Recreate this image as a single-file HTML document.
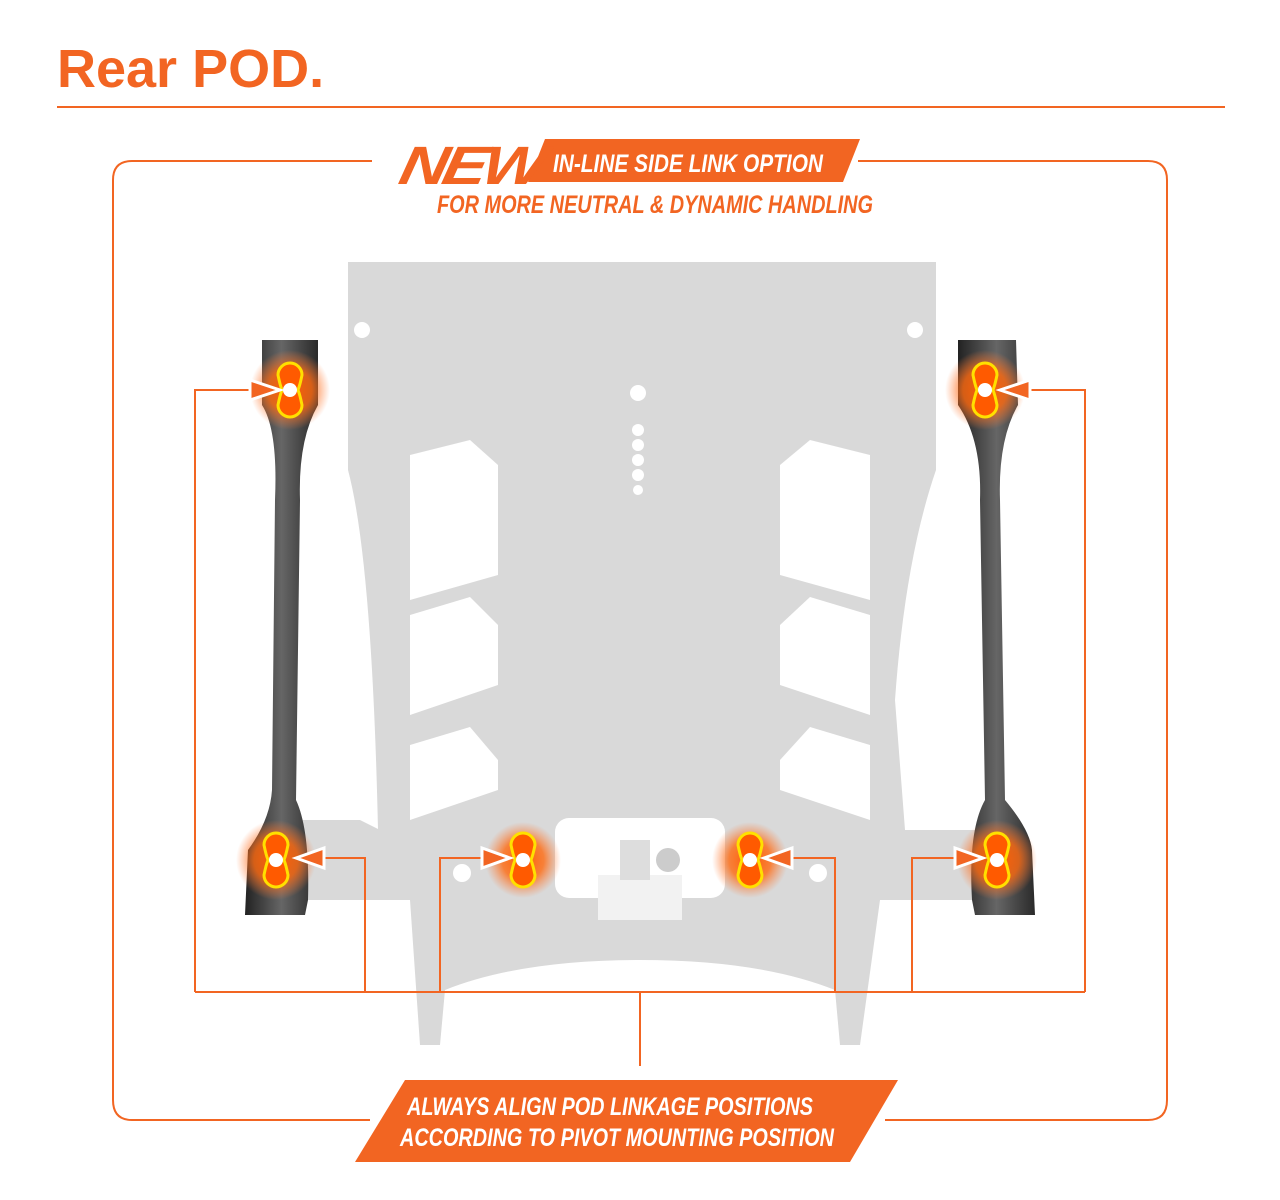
<!DOCTYPE html><html><head><style>body{margin:0;background:#fff}svg{display:block}</style></head><body>
<svg width="1280" height="1200" viewBox="0 0 1280 1200" xmlns="http://www.w3.org/2000/svg" font-family="Liberation Sans, sans-serif">
<defs>
<radialGradient id="g"><stop offset="0" stop-color="#ff5a00" stop-opacity="1"/><stop offset="0.55" stop-color="#ff6a10" stop-opacity="0.8"/><stop offset="1" stop-color="#ff8040" stop-opacity="0"/></radialGradient>
<linearGradient id="arm" x1="0" x2="1"><stop offset="0" stop-color="#222"/><stop offset="0.5" stop-color="#666"/><stop offset="1" stop-color="#2a2a2a"/></linearGradient>
</defs>
<text x="57" y="87" font-size="54" font-weight="bold" fill="#f26522">Rear POD.</text>
<rect x="57" y="106" width="1168" height="2" fill="#f26522"/>
<path d="M372 161 H132 Q113 161 113 180 V1100 Q113 1120 132 1120 H370 M885 1120 H1148 Q1167 1120 1167 1100 V180 Q1167 161 1148 161 H858" fill="none" stroke="#f26522" stroke-width="2"/>
<!-- plate -->
<path d="M300 820 L360 820 L380 830 L300 830 Z" fill="#d8d8d8"/>
<path d="M348 262 H936 V470 Q905 560 895 700 L905 830 L985 830 L985 900 L880 900 L860 1045 H840 L835 990 Q760 960 640 960 Q520 960 445 990 L440 1045 H420 L410 900 L300 900 L300 830 L378 830 Q372 560 348 470 Z" fill="#d9d9d9"/>
<rect x="555" y="818" width="170" height="80" rx="14" fill="#fff"/>
<rect x="598" y="875" width="84" height="45" fill="#f2f2f2"/>
<rect x="620" y="840" width="30" height="40" fill="#ddd"/><circle cx="668" cy="860" r="12" fill="#ccc"/>
<g fill="#fff">
<path d="M410 455 L470 440 L498 465 V575 L410 600 Z"/><path d="M410 615 L470 597 L498 625 V685 L410 715 Z"/><path d="M410 745 L470 727 L498 760 V790 L410 820 Z"/>
<path d="M870 455 L810 440 L780 465 V575 L870 600 Z"/><path d="M870 615 L810 597 L780 625 V685 L870 715 Z"/><path d="M870 745 L810 727 L780 760 V790 L870 820 Z"/>
<circle cx="362" cy="330" r="8"/><circle cx="915" cy="330" r="8"/><circle cx="638" cy="393" r="8"/>
<circle cx="638" cy="430" r="6"/><circle cx="638" cy="445" r="6"/><circle cx="638" cy="460" r="6"/><circle cx="638" cy="475" r="6"/><circle cx="638" cy="490" r="5"/>
<circle cx="462" cy="873" r="9"/><circle cx="818" cy="873" r="9"/>
</g>
<!-- arms -->
<path d="M262 340 H318 L318 405 Q298 440 300 500 L296 800 Q310 830 308 900 L305 915 H245 L248 850 Q270 820 272 790 L275 500 Q278 430 262 405 Z" fill="url(#arm)"/>
<path d="M958 340 H1016 L1018 405 Q998 440 1000 500 L1005 800 Q1030 830 1032 850 L1035 915 H975 L972 900 Q968 830 985 800 L980 500 Q982 440 958 405 Z" fill="url(#arm)"/>
<g>
<circle cx="290" cy="390" r="40" fill="url(#g)"/><circle cx="276" cy="860" r="40" fill="url(#g)"/><circle cx="523" cy="860" r="38" fill="url(#g)"/><circle cx="750" cy="860" r="38" fill="url(#g)"/><circle cx="985" cy="390" r="40" fill="url(#g)"/><circle cx="997" cy="860" r="40" fill="url(#g)"/>
</g>
<g fill="#ff5a00" stroke="#ffe000" stroke-width="3">
<path id="p" d="M-12 -15 A12 12 0 0 1 12 -15 Q10 -5 8 0 Q10 5 12 15 A12 12 0 0 1 -12 15 Q-10 5 -8 0 Q-10 -5 -12 -15Z" transform="translate(290 390)"/>
<use href="#p" transform="translate(-14 470)"/><use href="#p" transform="translate(233 470)"/><use href="#p" transform="translate(460 470)"/><use href="#p" transform="translate(695 0)"/><use href="#p" transform="translate(707 470)"/>
</g>
<g fill="#fff"><circle cx="290" cy="390" r="7"/><circle cx="276" cy="860" r="7"/><circle cx="523" cy="860" r="7"/><circle cx="750" cy="860" r="7"/><circle cx="985" cy="390" r="7"/><circle cx="997" cy="860" r="7"/></g>
<g fill="none" stroke="#f26522" stroke-width="2">
<path d="M250 390 H195 V992 M310 858 H365 V992 M505 858 H440 V992 M770 858 H835 V992 M977 858 H912 V992 M1005 390 H1085 V992 M195 992 H1085 M640 992 V1066"/>
</g>
<g fill="#f26522" stroke="#fff" stroke-width="3">
<path d="M280 390 L250 380 L250 400 Z"/><path d="M296 858 L324 848 L324 868 Z"/><path d="M510 858 L482 848 L482 868 Z"/><path d="M764 858 L792 848 L792 868 Z"/><path d="M983 858 L955 848 L955 868 Z"/><path d="M1000 390 L1030 380 L1030 400 Z"/>
</g>
<path d="M545 139 H860 L843 182 H528 Z" fill="#f26522"/>
<text x="400" y="184" font-size="54" font-weight="bold" font-style="italic" fill="#f26522" transform="skewX(-12) translate(36 0)" letter-spacing="-4" textLength="140" lengthAdjust="spacingAndGlyphs">NEW</text>
<text x="553" y="172" font-size="25" font-weight="bold" font-style="italic" fill="#fff" textLength="270" lengthAdjust="spacingAndGlyphs">IN-LINE SIDE LINK OPTION</text>
<text x="437" y="213" font-size="25" font-weight="bold" font-style="italic" fill="#f26522" textLength="436" lengthAdjust="spacingAndGlyphs">FOR MORE NEUTRAL &amp; DYNAMIC HANDLING</text>
<path d="M405 1080 H898 L850 1162 H355 Z" fill="#f26522"/>
<text x="407" y="1115" font-size="25" font-weight="bold" font-style="italic" fill="#fff" textLength="406" lengthAdjust="spacingAndGlyphs">ALWAYS ALIGN POD LINKAGE POSITIONS</text>
<text x="400" y="1146" font-size="25" font-weight="bold" font-style="italic" fill="#fff" textLength="434" lengthAdjust="spacingAndGlyphs">ACCORDING TO PIVOT MOUNTING POSITION</text>
</svg></body></html>
